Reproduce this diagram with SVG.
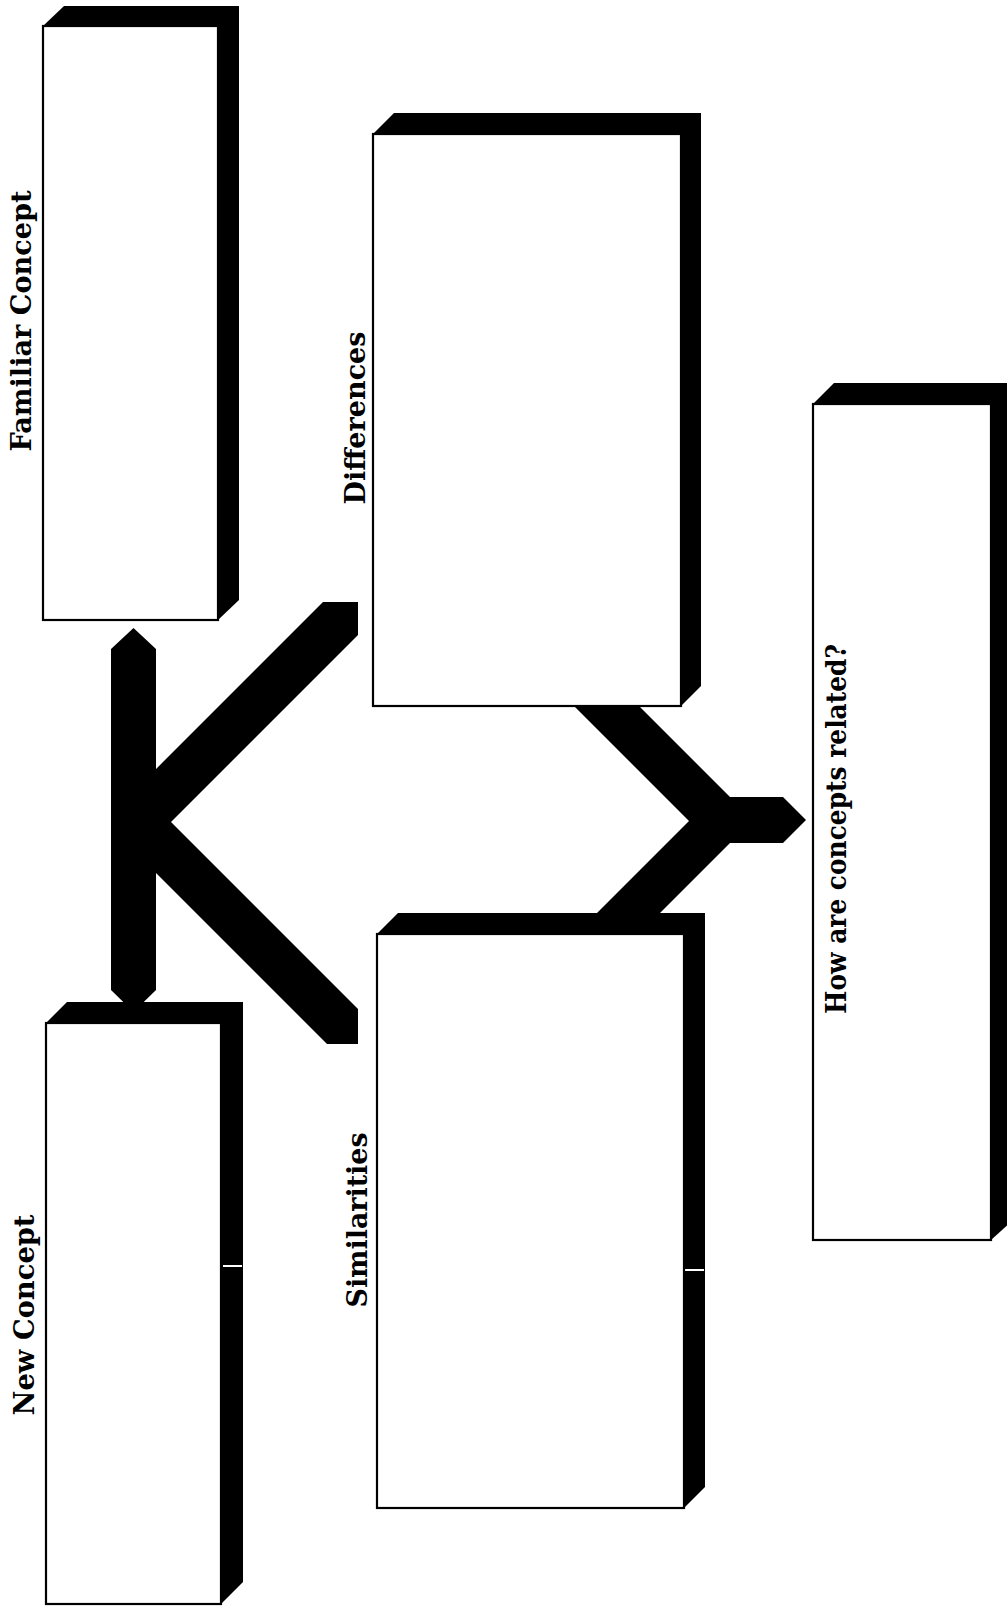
<svg xmlns="http://www.w3.org/2000/svg" width="1007" height="1614" viewBox="0 0 1007 1614">
<style>
.shadow{fill:#000}
.face{fill:#fff;stroke:#000;stroke-width:2.2}
.lbl{font-family:"DejaVu Serif","Liberation Serif",serif;font-weight:bold;font-size:27px;fill:#000}
.conn{fill:#000}
.notch{fill:#fff}
</style>
<rect x="0" y="0" width="1007" height="1614" fill="#fff"/>
<g id="connectors">
<polygon class="conn" points="111,649 133.5,628 156,649 156,769 323,602 358,602 358,635 171,822 358,1009 358,1044 327,1044 156,873 156,990 133.5,1012 111,990"/>
<polygon class="conn" points="568,700 633,700 730,797 783,797 806,820 783,843 730,843 653,920 590,920 689,821"/>
</g>
<g id="familiar-concept">
<polygon class="shadow" points="43,26 64,6 239,6 239,600 218,620"/>
<rect class="face" x="43" y="26" width="175" height="594"/>
<text class="lbl" transform="translate(31,321) rotate(-90)" text-anchor="middle" textLength="261" lengthAdjust="spacingAndGlyphs">Familiar Concept</text>
</g>
<g id="differences">
<polygon class="shadow" points="373,134 394,113 701,113 701,686 681,706"/>
<rect class="face" x="373" y="134" width="308" height="572"/>
<text class="lbl" transform="translate(365,418) rotate(-90)" text-anchor="middle" textLength="173" lengthAdjust="spacingAndGlyphs">Differences</text>
</g>
<g id="how-related">
<polygon class="shadow" points="813,404 834,383 1014,383 1014,1219 991,1240"/>
<rect class="face" x="813" y="404" width="178" height="836"/>
<text class="lbl" transform="translate(846,829) rotate(-90)" text-anchor="middle" textLength="370" lengthAdjust="spacingAndGlyphs">How are concepts related?</text>
</g>
<g id="similarities">
<polygon class="shadow" points="377,934 398,913 705,913 705,1487 684,1508"/>
<rect class="notch" x="685" y="1269" width="19" height="2"/>
<rect class="face" x="377" y="934" width="307" height="574"/>
<text class="lbl" transform="translate(367,1220) rotate(-90)" text-anchor="middle" textLength="175" lengthAdjust="spacingAndGlyphs">Similarities</text>
</g>
<g id="new-concept">
<polygon class="shadow" points="46,1023 67,1002 243,1002 243,1582 221,1604"/>
<rect class="notch" x="223" y="1265" width="19" height="2"/>
<rect class="face" x="46" y="1023" width="175" height="581"/>
<text class="lbl" transform="translate(34,1315) rotate(-90)" text-anchor="middle" textLength="201" lengthAdjust="spacingAndGlyphs">New Concept</text>
</g>
</svg>
